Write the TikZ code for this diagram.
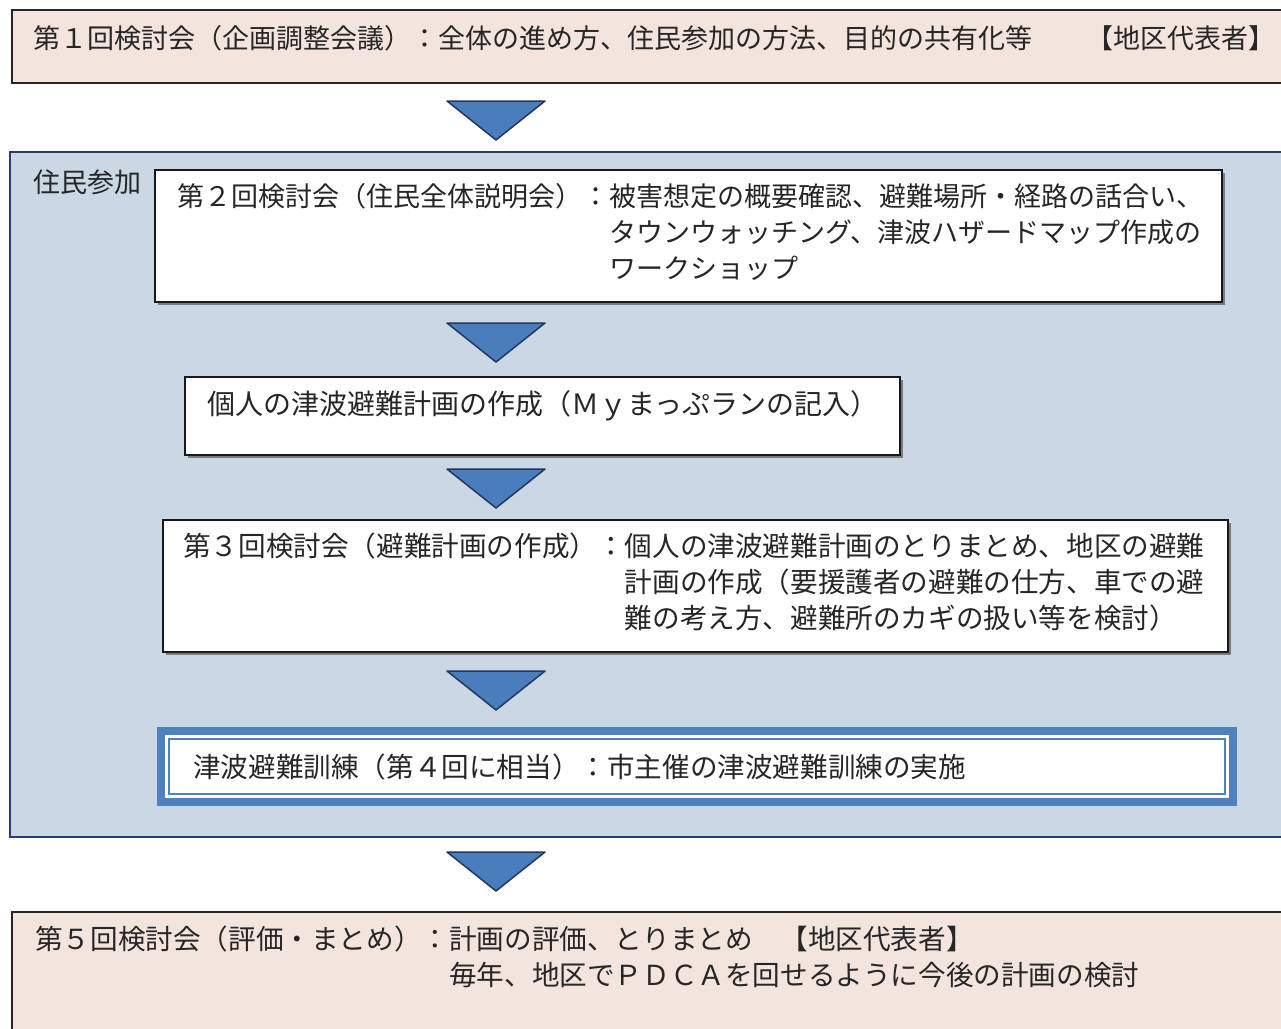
\documentclass[tikz,border=0pt]{standalone}
\usepackage{fontspec}
\setmainfont{Noto Sans CJK JP}
\usetikzlibrary{calc, shadows}

\definecolor{pinkbg}{RGB}{243,228,222}
\definecolor{regionbg}{RGB}{202,215,229}
\definecolor{regionline}{RGB}{45,60,110}
\definecolor{triblue}{RGB}{74,125,187}
\definecolor{tridark}{RGB}{35,55,95}
\definecolor{frameblue}{RGB}{79,129,189}

\begin{document}
\begin{tikzpicture}[
        x=1pt, y=-1pt,
        every node/.style={font=\fontsize{27}{36}\selectfont, text=black!85},
        panel/.style={draw=black!85, fill=pinkbg, line width=1.5, inner sep=0pt},
        box/.style={draw=black!90, fill=white, line width=1.5, inner sep=0pt,
            drop shadow={shadow xshift=3pt, shadow yshift=-3pt, fill=black!60, opacity=0.8}},
        label/.style={anchor=west, inner sep=0pt},
        wide/.style={font=\fontsize{27.6}{36}\selectfont},
        tri/.style={fill=triblue, draw=tridark, line width=1.5, line join=round}
    ]
    \useasboundingbox (0,0) rectangle (1281,1028);
    \fill[white] (0,0) rectangle (1281,1028);

    % Resident participation area
    \node [draw=regionline, fill=regionbg, line width=1.5, inner sep=0pt,
        minimum width=1275, minimum height=685] (area) at (647.5,494.5) {};
    \node [label] (areatitle) at (33,182) {住民参加};

    % Boxes
    \node [panel, minimum width=1273, minimum height=73] (m1) at (648.5,46.5) {};
    \node [box, minimum width=1067, minimum height=132] (m2) at (688.5,236) {};
    \node [box, minimum width=715, minimum height=78] (plan) at (542.5,416) {};
    \node [box, minimum width=1065, minimum height=132] (m3) at (695.5,586) {};
    \node [draw=frameblue, fill=white, line width=8, inner sep=0pt,
        minimum width=1072, minimum height=71] (drill) at (697,766.5) {};
    \draw [frameblue, line width=2] ($(drill.north west)+(12,12)$) rectangle ($(drill.south east)+(-12,-12)$);
    \node [panel, minimum width=1273, minimum height=133] (m5) at (648.5,978.5) {};

    % Texts
    \node [label] (m1text) at (33,38) {第１回検討会（企画調整会議）：全体の進め方、住民参加の方法、目的の共有化等　　【地区代表者】};
    \node [label] (m2text) at (177,235) {\begin{tabular}{@{}l@{}l@{}}
        第２回検討会（住民全体説明会）：&被害想定の概要確認、避難場所・経路の話合い、\\
        &タウンウォッチング、津波ハザードマップ作成の\\
        &ワークショップ
    \end{tabular}};
    \node [label, font=\fontsize{28}{36}\selectfont] (plantext) at (207,406) {個人の津波避難計画の作成（Ｍｙまっぷランの記入）};
    \node [label, wide] (m3text) at (183,585) {\begin{tabular}{@{}l@{}l@{}}
        第３回検討会（避難計画の作成）：&個人の津波避難計画のとりまとめ、地区の避難\\
        &計画の作成（要援護者の避難の仕方、車での避\\
        &難の考え方、避難所のカギの扱い等を検討）
    \end{tabular}};
    \node [label, wide] (drilltext) at (193,767) {津波避難訓練（第４回に相当）：市主催の津波避難訓練の実施};
    \node [label, wide] (m5text) at (35,960.5) {\begin{tabular}{@{}l@{}l@{}}
        第５回検討会（評価・まとめ）：&計画の評価、とりまとめ　【地区代表者】\\
        &毎年、地区でＰＤＣＡを回せるように今後の計画の検討
    \end{tabular}};

    % Arrows between steps
    \foreach \y in {101,323,469,671,852}
        \filldraw [tri] (447,\y) -- (545,\y) -- (496,{\y+39}) -- cycle;

\end{tikzpicture}
\end{document}
